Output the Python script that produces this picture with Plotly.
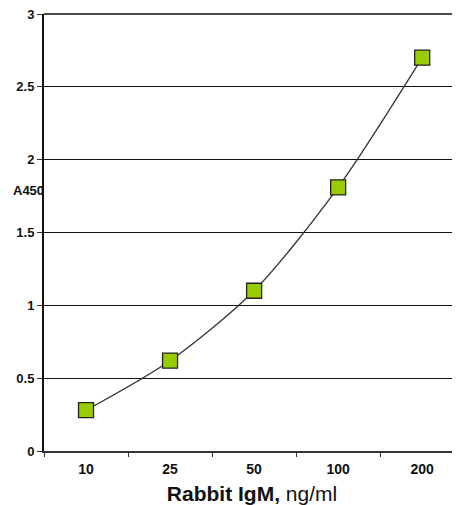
import plotly.graph_objects as go

categories = ["10", "25", "50", "100", "200"]
a450 = [0.28, 0.62, 1.10, 1.81, 2.70]
y_ticks = [0, 0.5, 1, 1.5, 2, 2.5, 3]
y_tick_labels = ["0", "0.5", "1", "1.5", "2", "2.5", "3"]

fig = go.Figure()
fig.add_trace(go.Scatter(
    x=categories, y=a450, mode="lines+markers",
    line=dict(color="#333333", width=1.3, shape="spline", smoothing=0.8),
    marker=dict(symbol="square", size=15, color="#99CC00",
                line=dict(color="#222222", width=1.3)),
    showlegend=False,
))

# page body has an 8px default margin; compensate so the plot lands where the reference has it
fig.update_layout(
    width=452, height=497,
    margin=dict(l=36, r=0, t=6, b=54),
    paper_bgcolor="white", plot_bgcolor="white",
    font=dict(family="Liberation Sans, Arial, sans-serif", color="#111111"),
    xaxis=dict(
        type="category", range=[-0.5, 4.45], automargin=False,
        tickson="boundaries", ticks="outside", ticklen=4, tickwidth=1.2, tickcolor="#333333",
        showgrid=False, showline=True, linecolor="#333333", linewidth=2,
        tickfont=dict(size=14, weight="bold"), ticklabelstandoff=4,
        title=dict(text="<b>Rabbit IgM,</b> ng/ml", font=dict(size=21), standoff=19),
        zeroline=False,
    ),
    yaxis=dict(
        range=[y_ticks[0], y_ticks[-1]], tickvals=y_ticks, ticktext=y_tick_labels, automargin=False,
        ticks="outside", ticklen=5, tickwidth=1.2, tickcolor="#333333",
        ticklabeloverflow="allow",
        showgrid=True, gridcolor="#111111", gridwidth=1.4,
        showline=True, linecolor="#111111", linewidth=2,
        tickfont=dict(size=13, weight="bold"),
        zeroline=False,
    ),
    # top gridline (y = 3) sits on the top edge of the plot area
    shapes=[dict(type="line", xref="paper", yref="paper", x0=0, x1=1, y0=1, y1=1,
                 layer="above", line=dict(color="#111111", width=1.5))],
    annotations=[dict(
        text="<b>A450</b>", x=0, y=1.79, xref="paper", yref="y",
        xanchor="right", yanchor="middle", xshift=2, showarrow=False,
        font=dict(size=13),
    )],
)

fig.write_html("out.html")
